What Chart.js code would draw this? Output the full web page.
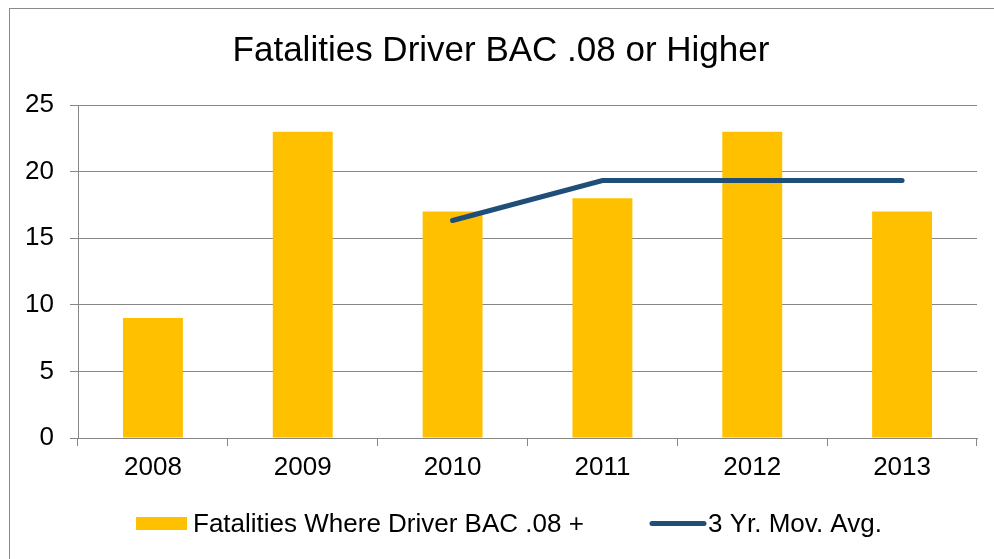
<!DOCTYPE html>
<html>
<head>
<meta charset="utf-8">
<script src="https://cdn.jsdelivr.net/npm/chart.js@4"></script>
<style>
  html, body { margin: 0; padding: 0; background: #fff; }
  #wrap { position: relative; width: 994px; height: 559px; overflow: hidden; }
  #frame { position: absolute; left: 9px; top: 8px; width: 1000px; height: 600px;
           border-left: 1px solid #8a8a8a; border-top: 1px solid #8a8a8a; }
  canvas { position: absolute; left: 0; top: 0; }
</style>
</head>
<body>
<div id="wrap">
  <div id="frame"></div>
  <canvas id="myChart" width="994" height="559"></canvas>
</div>
<script>
const years = ['2008', '2009', '2010', '2011', '2012', '2013'];
const fatalities = [9, 23, 17, 18, 23, 17];
const movingAvg = [null, null, 16.33, 19.33, 19.33, 19.33];

const barLabel = 'Fatalities Where Driver BAC .08 +';
const lineLabel = '3 Yr. Mov. Avg.';

const sans = "'Liberation Sans', Arial, sans-serif";
const gridColor = '#868686';

// legend drawn by hand so the two items can sit far apart like the original
const bottomLegend = {
    id: 'bottomLegend',
    afterDraw(chart) {
        const ctx = chart.ctx;
        const line = chart.data.datasets[0];
        const bar = chart.data.datasets[1];
        const y = 523.5;
        ctx.save();
        ctx.font = '26px ' + sans;
        ctx.textBaseline = 'middle';

        ctx.fillStyle = bar.backgroundColor;
        ctx.fillRect(136, y - 6.5, 51, 13);
        ctx.fillStyle = '#000';
        ctx.fillText(bar.label, 193, y + 1);

        ctx.strokeStyle = line.borderColor;
        ctx.lineWidth = 5;
        ctx.lineCap = 'round';
        ctx.beginPath();
        ctx.moveTo(652, y);
        ctx.lineTo(704, y);
        ctx.stroke();
        ctx.fillStyle = '#000';
        ctx.fillText(line.label, 708, y + 1);
        ctx.restore();
    }
};

const ctx = document.getElementById('myChart').getContext('2d');

new Chart(ctx, {
    type: 'bar',
    data: {
        labels: years,
        datasets: [{
            type: 'line',
            label: lineLabel,
            data: movingAvg,
            borderColor: '#1f4e79',
            backgroundColor: '#1f4e79',
            borderWidth: 5,
            borderCapStyle: 'round',
            pointRadius: 0,
            tension: 0,
            order: 1
        }, {
            type: 'bar',
            label: barLabel,
            data: fatalities,
            backgroundColor: '#ffc000',
            borderWidth: 0,
            categoryPercentage: 1,
            barPercentage: 0.4,
            order: 2
        }]
    },
    options: {
        responsive: false,
        animation: false,
        layout: {
            padding: { left: 25, right: 17, top: 0, bottom: 71 }
        },
        plugins: {
            legend: { display: false },
            tooltip: { enabled: false },
            title: {
                display: true,
                text: 'Fatalities Driver BAC .08 or Higher',
                color: '#000',
                font: { family: sans, size: 35, weight: 'normal', lineHeight: 1.2 },
                padding: { top: 30, bottom: 33 }
            }
        },
        scales: {
            x: {
                afterFit(scale) { scale.height = 50; },
                grid: {
                    display: true,
                    drawOnChartArea: false,
                    drawTicks: true,
                    tickLength: 8,
                    color: gridColor
                },
                border: { display: true, color: gridColor },
                ticks: {
                    color: '#000',
                    padding: 6,
                    font: { family: sans, size: 26 }
                }
            },
            y: {
                min: 0,
                max: 25,
                afterFit(scale) { scale.width = 53; },
                grid: {
                    color: gridColor,
                    tickLength: 8
                },
                border: { display: true, color: gridColor },
                ticks: {
                    stepSize: 5,
                    color: '#000',
                    padding: 16,
                    font: { family: sans, size: 26 }
                }
            }
        }
    },
    plugins: [bottomLegend]
});
</script>
</body>
</html>
